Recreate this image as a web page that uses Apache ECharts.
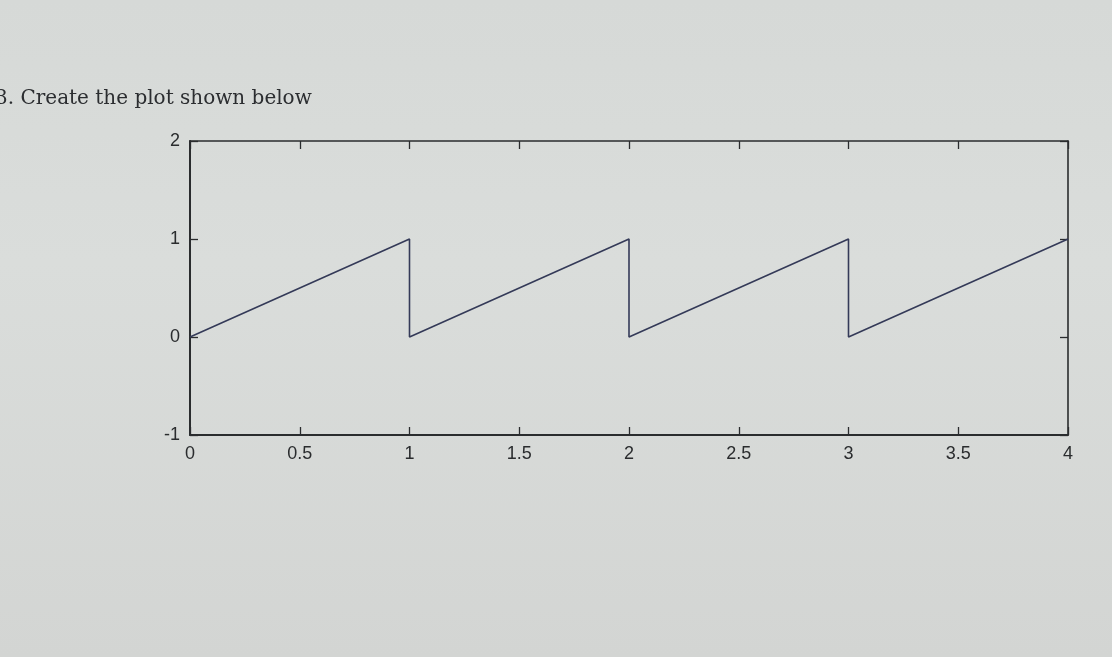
<!DOCTYPE html>
<html>
<head>
<meta charset="utf-8">
<script src="https://cdn.jsdelivr.net/npm/echarts@6/dist/echarts.min.js"></script>
<style>
html,body{margin:0;padding:0;width:1112px;height:657px;overflow:hidden;background:linear-gradient(180deg,#d6d9d7 0%,#dadddb 40%,#d3d5d3 100%);}
#chart{width:1112px;height:657px;}
</style>
</head>
<body>
<div id="chart"></div>
<script>
const xs = [0, 1, 1, 2, 2, 3, 3, 4];
const ys = [0, 1, 0, 1, 0, 1, 0, 1];
const xTicks = [0, 0.5, 1, 1.5, 2, 2.5, 3, 3.5, 4];
const yTicks = [-1, 0, 1, 2];
const titleText = '3. Create the plot shown below';

const chart = echarts.init(document.getElementById('chart'));
const axisCol = '#2a2c2e';
const pts = xs.map((x, i) => [x, ys[i]]);
const tick = { show: true, inside: true, length: 8, lineStyle: { color: axisCol, width: 1.3 } };
const labelFont = { color: '#2a2c2e', fontSize: 18, fontFamily: 'Liberation Sans, Arial, sans-serif' };
chart.setOption({
  backgroundColor: 'transparent',
  animation: false,
  graphic: [{
    type: 'text', left: -5, top: 89,
    style: { text: titleText, font: '20px "DejaVu Serif", "Liberation Serif", serif', fill: '#2b2d30' }
  }],
  grid: { left: 190, right: 44, top: 141, bottom: 222, show: false },
  xAxis: [{
    type: 'value', min: xTicks[0], max: xTicks[xTicks.length - 1], interval: 0.5,
    position: 'bottom',
    axisLine: { show: true, onZero: false, lineStyle: { color: axisCol, width: 2 } },
    axisTick: tick,
    axisLabel: Object.assign({ margin: 10, formatter: v => xTicks.includes(v) ? String(v) : '' }, labelFont),
    splitLine: { show: false }
  }, {
    type: 'value', min: xTicks[0], max: xTicks[xTicks.length - 1], interval: 0.5,
    position: 'top',
    axisLine: { show: true, onZero: false, lineStyle: { color: axisCol, width: 1.6 } },
    axisTick: tick,
    axisLabel: { show: false },
    splitLine: { show: false }
  }],
  yAxis: [{
    type: 'value', min: yTicks[0], max: yTicks[yTicks.length - 1], interval: 1,
    position: 'left',
    axisLine: { show: true, onZero: false, lineStyle: { color: axisCol, width: 2 } },
    axisTick: tick,
    axisLabel: Object.assign({ margin: 10 }, labelFont),
    splitLine: { show: false }
  }, {
    type: 'value', min: yTicks[0], max: yTicks[yTicks.length - 1], interval: 1,
    position: 'right',
    axisLine: { show: true, onZero: false, lineStyle: { color: axisCol, width: 1.6 } },
    axisTick: tick,
    axisLabel: { show: false },
    splitLine: { show: false }
  }],
  series: [{
    type: 'line', xAxisIndex: 0, yAxisIndex: 0, data: pts,
    showSymbol: false, symbol: 'none',
    lineStyle: { color: '#343a58', width: 1.6 }
  }]
});
</script>
</body>
</html>
